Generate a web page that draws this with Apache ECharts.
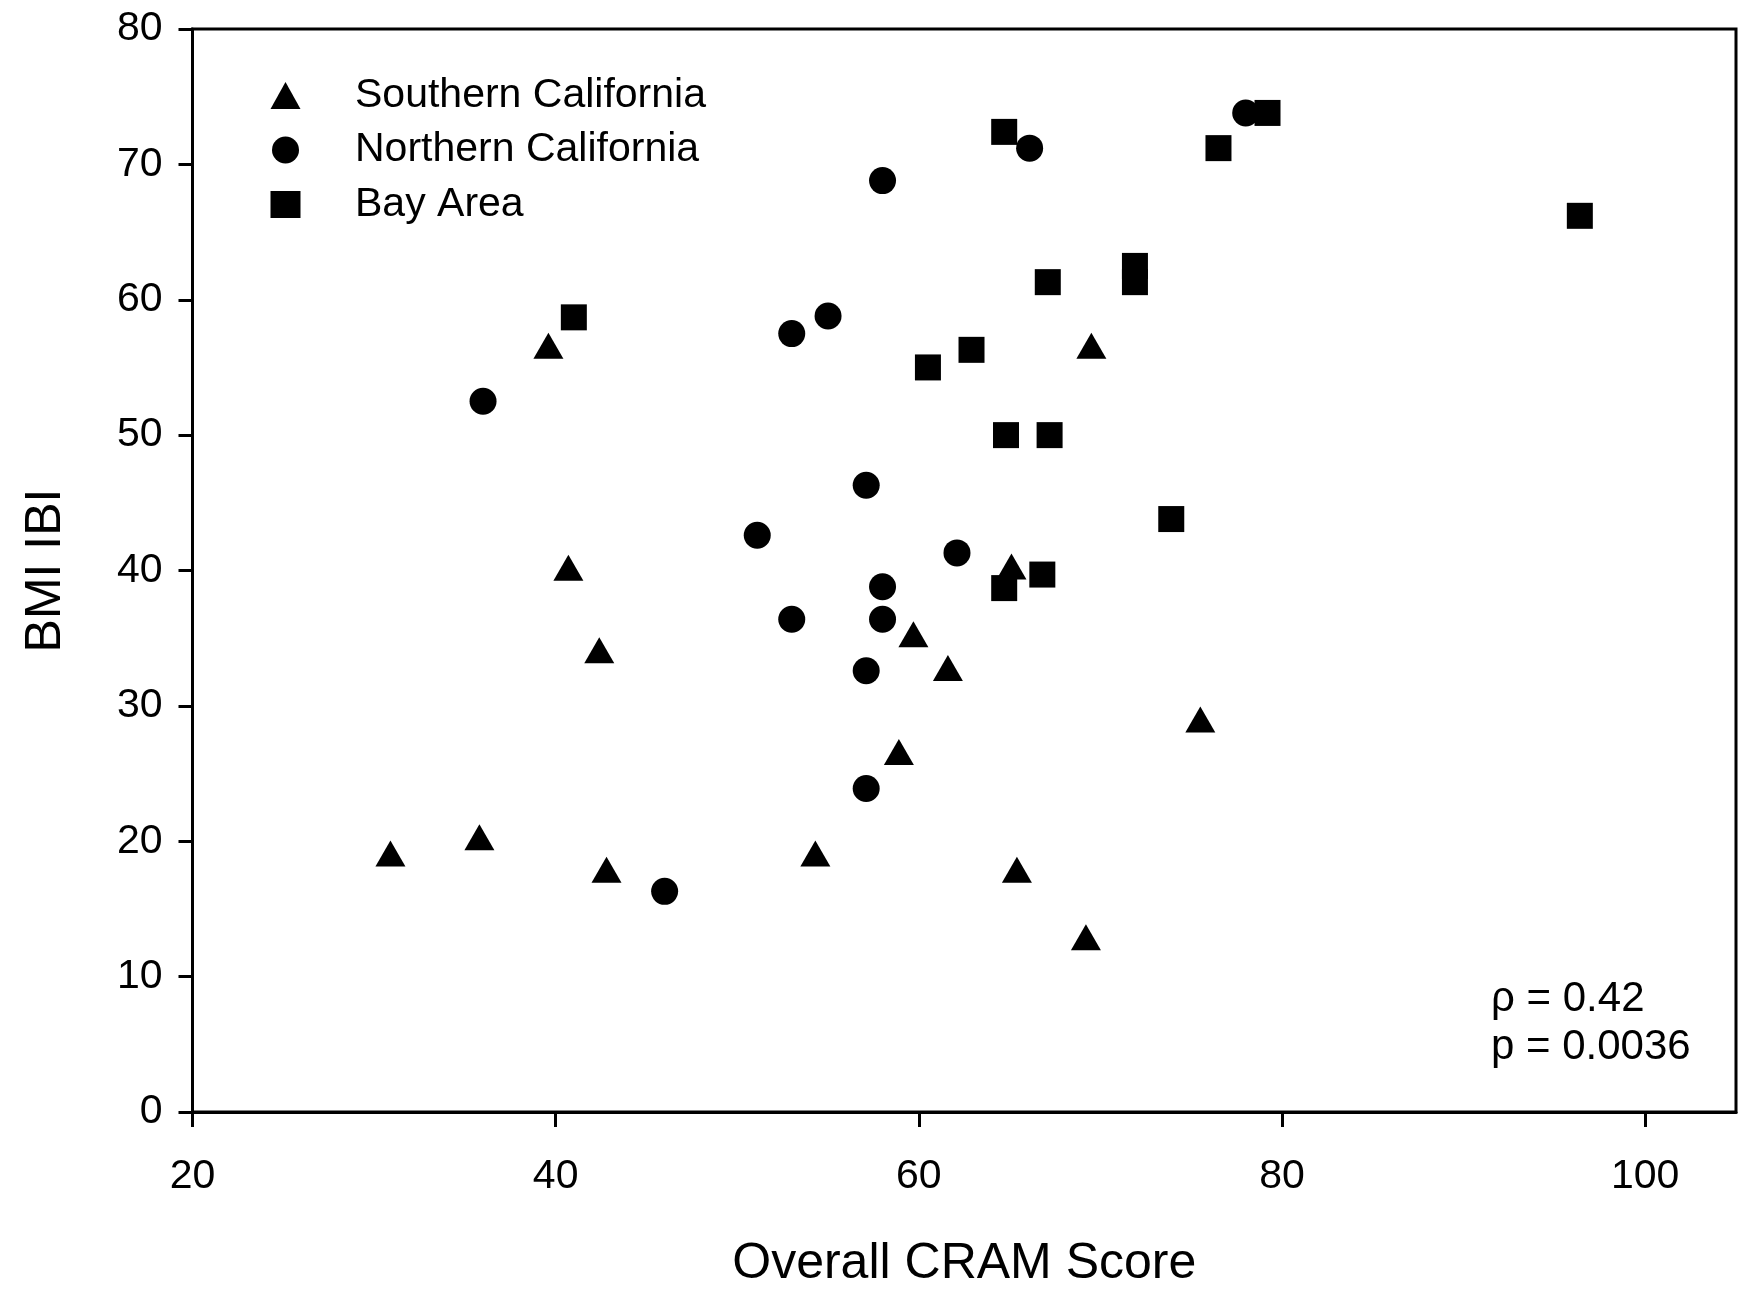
<!DOCTYPE html>
<html>
<head>
<meta charset="utf-8">
<script src="https://cdn.jsdelivr.net/npm/echarts@6/dist/echarts.min.js"></script>
<style>
html, body { margin: 0; padding: 0; background: #fff; }
#chart { width: 1738px; height: 1289px; }
</style>
</head>
<body>
<div id="chart"></div>
<script>
// Series names
var seriesNames = ['Southern California', 'Northern California', 'Bay Area'];

// Southern California (triangles)
var southX = [30.9, 35.8, 39.6, 40.7, 42.4, 42.8, 54.3, 58.9, 59.7, 61.6, 65.1, 65.4, 69.2, 69.5, 75.5];
var southY = [19.1, 20.3, 56.6, 40.2, 34.1, 17.9, 19.1, 26.6, 35.3, 32.8, 40.3, 17.9, 12.9, 56.6, 29.0];

// Northern California (circles)
var northX = [36.0, 46.0, 51.1, 53.0, 53.0, 55.0, 57.1, 57.1, 57.1, 58.0, 58.0, 58.0, 62.1, 66.1, 78.0];
var northY = [52.5, 16.3, 42.6, 57.5, 36.4, 58.8, 46.3, 32.6, 23.9, 68.8, 38.8, 36.4, 41.3, 71.2, 73.8];

// Bay Area (squares)
var bayX = [41.0, 60.5, 62.9, 64.7, 64.8, 64.7, 66.8, 67.1, 67.2, 71.9, 71.9, 73.9, 76.5, 79.2, 96.4];
var bayY = [58.7, 55.0, 56.3, 72.4, 50.0, 38.7, 39.7, 61.3, 50.0, 62.5, 61.3, 43.8, 71.2, 73.8, 66.2];

// Axis ticks
var xTicks = [20, 40, 60, 80, 100];
var yTicks = [0, 10, 20, 30, 40, 50, 60, 70, 80];

// Annotation
var statLines = ['\u03c1 = 0.42', 'p = 0.0036'];

function pairs(xs, ys) {
  return xs.map(function (x, i) { return [x, ys[i]]; });
}

var FONT = '"Liberation Sans", Arial, sans-serif';
var chart = echarts.init(document.getElementById('chart'), null, { renderer: 'canvas' });

var axisCommon = {
  axisLine: { show: true, lineStyle: { color: '#000', width: 3 } },
  splitLine: { show: false },
  nameTextStyle: { color: '#000', fontSize: 50, fontFamily: FONT },
  nameLocation: 'middle'
};

var option = {
  animation: false,
  backgroundColor: '#fff',
  grid: {
    left: 192.5, right: 2, top: 29, bottom: 177,
    outerBoundsMode: 'none',
    containLabel: false,
    show: true, borderColor: '#000', borderWidth: 3, backgroundColor: 'transparent'
  },
  legend: {
    orient: 'vertical',
    left: 265.5,
    top: 70,
    itemWidth: 30,
    itemHeight: 27,
    itemGap: 13.5,
    symbolKeepAspect: false,
    selectedMode: false,
    textStyle: { color: '#000', fontSize: 41, fontFamily: FONT, lineHeight: 41, padding: [0, 0, 0, 49.5] },
    data: seriesNames
  },
  xAxis: Object.assign({}, axisCommon, {
    type: 'value',
    min: 20, max: 105, interval: 20,
    name: 'Overall CRAM Score',
    nameGap: 127,
    axisTick: { show: true, inside: false, length: 15, lineStyle: { color: '#000', width: 3 }, customValues: xTicks },
    axisLabel: { color: '#000', fontSize: 41, fontFamily: FONT, margin: 44, customValues: xTicks }
  }),
  yAxis: Object.assign({}, axisCommon, {
    type: 'value',
    min: 0, max: 80, interval: 10,
    name: 'BMI IBI',
    nameGap: 121,
    nameRotate: 90,
    axisTick: { show: true, inside: false, length: 14, lineStyle: { color: '#000', width: 3 }, customValues: yTicks },
    axisLabel: { color: '#000', fontSize: 41, fontFamily: FONT, margin: 30, customValues: yTicks }
  }),
  series: [
    {
      name: seriesNames[2], type: 'scatter', symbol: 'rect', symbolSize: [26, 26],
      itemStyle: { color: '#000', opacity: 1 }, data: pairs(bayX, bayY)
    },
    {
      name: seriesNames[1], type: 'scatter', symbol: 'circle', symbolSize: 27,
      itemStyle: { color: '#000', opacity: 1 }, data: pairs(northX, northY)
    },
    {
      name: seriesNames[0], type: 'scatter', symbol: 'triangle', symbolSize: [30, 26],
      itemStyle: { color: '#000', opacity: 1 }, data: pairs(southX, southY)
    }
  ],
  graphic: [
    { type: 'text', left: 1491, top: 978, style: { text: statLines[0], fill: '#000', font: '42px ' + FONT } },
    { type: 'text', left: 1491, top: 1026, style: { text: statLines[1], fill: '#000', font: '42px ' + FONT } }
  ]
};

chart.setOption(option);
</script>
</body>
</html>
